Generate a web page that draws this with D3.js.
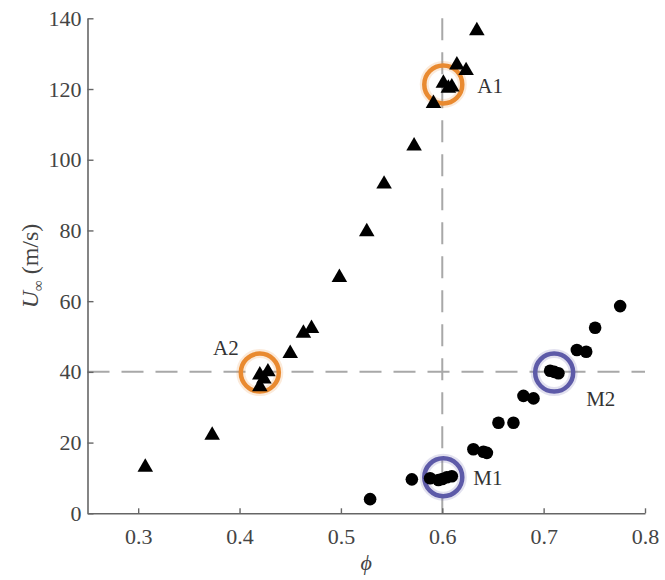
<!DOCTYPE html>
<html>
<head>
<meta charset="utf-8">
<script src="https://cdn.jsdelivr.net/npm/d3@7"></script>
<style>
  html, body { margin: 0; padding: 0; background: #fff; }
  svg { display: block; }
</style>
</head>
<body>
<svg id="chart" width="665" height="580"></svg>
<script>
// ---- data ----
const triPhi = [0.307, 0.373, 0.420, 0.424, 0.428, 0.420, 0.450, 0.463, 0.471, 0.4985, 0.5255, 0.5426, 0.5722, 0.5913, 0.6011, 0.6094, 0.606, 0.6144, 0.6235, 0.6341];
const triU   = [13.0, 22.1, 39.1, 38.0, 40.0, 35.8, 45.2, 50.9, 52.3, 66.7, 79.6, 93.1, 103.9, 115.9, 121.6, 120.6, 120.2, 126.8, 125.2, 136.5];

const dotPhi = [0.5288, 0.570, 0.588, 0.5962, 0.600, 0.6045, 0.6094, 0.6307, 0.6406, 0.644, 0.6554, 0.6702, 0.6801, 0.690, 0.7064, 0.7105, 0.7146, 0.7328, 0.742, 0.7508, 0.7755];
const dotU   = [4.0, 9.6, 9.9, 9.4, 9.7, 10.2, 10.5, 18.1, 17.4, 17.1, 25.6, 25.6, 33.2, 32.5, 40.3, 40.0, 39.6, 46.2, 45.7, 52.5, 58.6];

const markLabels = ["A1", "A2", "M1", "M2"];
const markPhi    = [0.601, 0.420, 0.601, 0.7104];
const markU      = [121.3, 39.8, 10.2, 39.8];
const markGroup  = ["A", "A", "M", "M"];

const xTicks = [0.3, 0.4, 0.5, 0.6, 0.7, 0.8];
const yTicks = [0, 20, 40, 60, 80, 100, 120, 140];
const refPhi = 0.6;
const refU = 40;

// ---- layout ----
const svg = d3.select("#chart");
const x = d3.scaleLinear().domain([0.25, 0.8]).range([87.5, 645]);
const y = d3.scaleLinear().domain([0, 140]).range([513.3, 18.3]);
const serif = "'Liberation Serif', 'DejaVu Serif', serif";
const textColor = "#444";
const axisColor = "#666";

// dashed reference lines
svg.append("line")
  .attr("x1", x(refPhi)).attr("x2", x(refPhi))
  .attr("y1", y(140)).attr("y2", y(0))
  .attr("stroke", "#a8a8a8").attr("stroke-width", 2)
  .attr("stroke-dasharray", "22,12");
svg.append("line")
  .attr("x1", x(0.25)).attr("x2", x(0.8))
  .attr("y1", y(refU)).attr("y2", y(refU))
  .attr("stroke", "#a8a8a8").attr("stroke-width", 2)
  .attr("stroke-dasharray", "22,12");

// axes
const xAxis = d3.axisBottom(x).tickValues(xTicks).tickFormat(d3.format(".1f"))
  .tickSize(-5).tickSizeOuter(0).tickPadding(15);
const yAxis = d3.axisLeft(y).tickValues(yTicks).tickFormat(d3.format("d"))
  .tickSize(-6).tickSizeOuter(0).tickPadding(6);

const gx = svg.append("g").attr("transform", `translate(0,${y(0)})`).call(xAxis);
const gy = svg.append("g").attr("transform", `translate(${x(0.25)},0)`).call(yAxis);
[gx, gy].forEach(g => {
  g.attr("font-family", null).attr("font-size", null);
  g.select(".domain").attr("stroke", axisColor).attr("stroke-width", 1.6);
  g.selectAll(".tick line").attr("stroke", axisColor).attr("stroke-width", 1.4);
  g.selectAll(".tick text").attr("fill", textColor)
    .style("font-family", serif).style("font-size", "22px");
});

// highlight circles
const markColor = g => g === "A" ? "#e98a30" : "#5d5aa8";
const mk = markLabels.map((l, i) => ({ l, phi: markPhi[i], u: markU[i], g: markGroup[i] }));
svg.append("g").selectAll("circle.glow").data(mk).join("circle")
  .attr("cx", d => x(d.phi)).attr("cy", d => y(d.u)).attr("r", 19)
  .attr("fill", "none").attr("stroke", d => markColor(d.g))
  .attr("stroke-width", 9).attr("stroke-opacity", 0.18);
svg.append("g").selectAll("circle.ring").data(mk).join("circle")
  .attr("cx", d => x(d.phi)).attr("cy", d => y(d.u)).attr("r", 19)
  .attr("fill", "none").attr("stroke", d => markColor(d.g))
  .attr("stroke-width", 4.5);

// points
const tri = triPhi.map((p, i) => ({ p, u: triU[i] }));
svg.append("g").selectAll("path").data(tri).join("path")
  .attr("transform", d => `translate(${x(d.p)},${y(d.u)})`)
  .attr("d", d3.symbol(d3.symbolTriangle, 105))
  .attr("fill", "#000");

const dots = dotPhi.map((p, i) => ({ p, u: dotU[i] }));
svg.append("g").selectAll("circle").data(dots).join("circle")
  .attr("cx", d => x(d.p)).attr("cy", d => y(d.u)).attr("r", 6.3)
  .attr("fill", "#000");

// mark labels
const labelPos = {
  A1: { dx: 34, dy: 1, anchor: "start" },
  A2: { dx: -34, dy: -25, anchor: "middle" },
  M1: { dx: 30, dy: 0, anchor: "start" },
  M2: { dx: 32, dy: 26, anchor: "start" }
};
svg.append("g").selectAll("text").data(mk).join("text")
  .attr("x", d => x(d.phi) + labelPos[d.l].dx)
  .attr("y", d => y(d.u) + labelPos[d.l].dy)
  .attr("dy", "0.35em")
  .attr("text-anchor", d => labelPos[d.l].anchor)
  .attr("fill", "#333")
  .style("font-family", serif).style("font-size", "21px")
  .text(d => d.l);

// axis titles
svg.append("text")
  .attr("x", (x(0.25) + x(0.8)) / 2).attr("y", 570)
  .attr("text-anchor", "middle").attr("fill", textColor)
  .style("font-family", serif).style("font-size", "22px").style("font-style", "italic")
  .text("ϕ");

const yl = svg.append("text")
  .attr("transform", "translate(38,266) rotate(-90)")
  .attr("text-anchor", "middle").attr("fill", textColor)
  .style("font-family", serif).style("font-size", "24px");
yl.append("tspan").style("font-style", "italic").text("U");
yl.append("tspan").attr("dy", 5).style("font-size", "15px").style("font-style", "italic").text("∞");
yl.append("tspan").attr("dy", -5).text(" (m/s)");
</script>
</body>
</html>
